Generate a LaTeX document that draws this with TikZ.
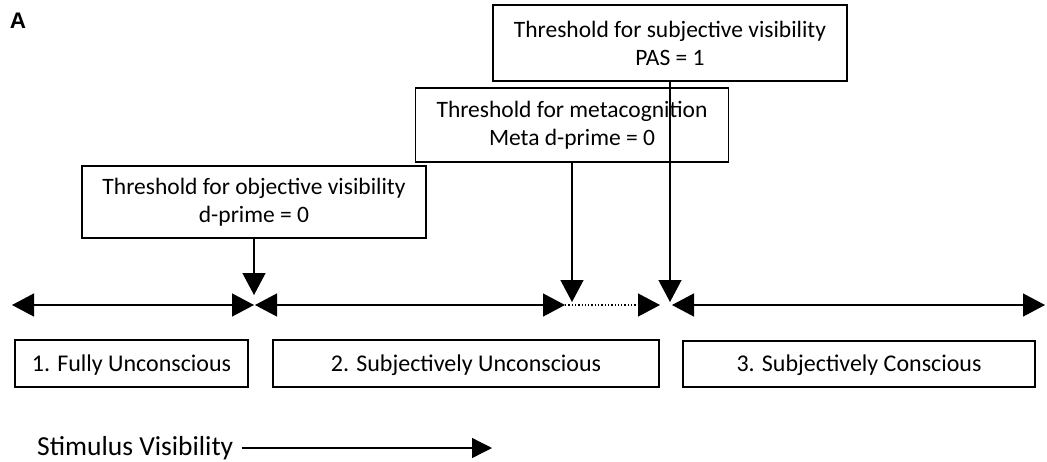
\documentclass[tikz,border=0pt]{standalone}
\usepackage{fontspec}
\setmainfont{Carlito}
\newfontfamily\panelfont{Liberation Sans}
\usetikzlibrary{arrows.meta}
\begin{document}
\begin{tikzpicture} [
  x=1pt, y=-1pt,
  thresh/.style={draw, line width=1.8pt, align=center, inner sep=0pt,
    font=\fontsize{23.5}{28}\selectfont},
  zone/.style={draw, line width=1.8pt, inner sep=0pt, text height=18pt, text depth=3pt,
    font=\fontsize{24}{28}\selectfont},
  tip/.style={line width=1.3pt, -{Triangle[length=22pt,width=23pt]}},
  both/.style={line width=1.3pt, {Triangle[length=22pt,width=23pt]}-{Triangle[length=22pt,width=23pt]}}]
\useasboundingbox (0,0) rectangle (1047,461);
\node[font=\panelfont\bfseries\fontsize{22.5}{26}\selectfont] (panel) at (18,20.5) {A};
\node[thresh, minimum width=354pt, minimum height=76pt] (subjbox) at (670,43)
  {Threshold for subjective visibility\\PAS = 1};
\node[thresh, minimum width=313pt, minimum height=74pt] (metabox) at (572,125)
  {Threshold for metacognition\\Meta d-prime = 0};
\node[thresh, minimum width=344pt, minimum height=72pt] (objbox) at (254,202)
  {Threshold for objective visibility\\d-prime = 0};
\coordinate (a0) at (12,305);
\coordinate (a1) at (254,305);
\coordinate (a2) at (255,305);
\coordinate (a3) at (565,305);
\coordinate (a4) at (660,305);
\coordinate (a5) at (672,305);
\coordinate (a6) at (1045,305);
\draw[both] (a0) -- (a1);
\draw[both] (a2) -- (a3);
\draw[tip, dotted] (a3) -- (a4);
\draw[both] (a5) -- (a6);
\draw[tip] (objbox.south) -- (254,295);
\draw[tip] (metabox.south) -- (572,302);
\draw[tip] (subjbox.south) -- (670,302);
\node[zone, minimum width=233pt, minimum height=47pt] (fullbox) at (131.5,363.5)
  {1. Fully Unconscious};
\node[zone, minimum width=386pt, minimum height=47pt] (subunbox) at (466,363.5)
  {2. Subjectively Unconscious};
\node[zone, minimum width=352pt, minimum height=46pt] (subconbox) at (859,364)
  {3. Subjectively Conscious};
\node[anchor=base west, inner sep=0pt, font=\fontsize{27.5}{32}\selectfont] (stimtext) at (37,455)
  {Stimulus Visibility};
\coordinate (stimend) at (492,448);
\draw[line width=1.3pt, -{Triangle[length=20pt,width=20pt]}] (stimtext.east |- stimend) ++(8,0) -- (stimend);
\end{tikzpicture}
\end{document}
